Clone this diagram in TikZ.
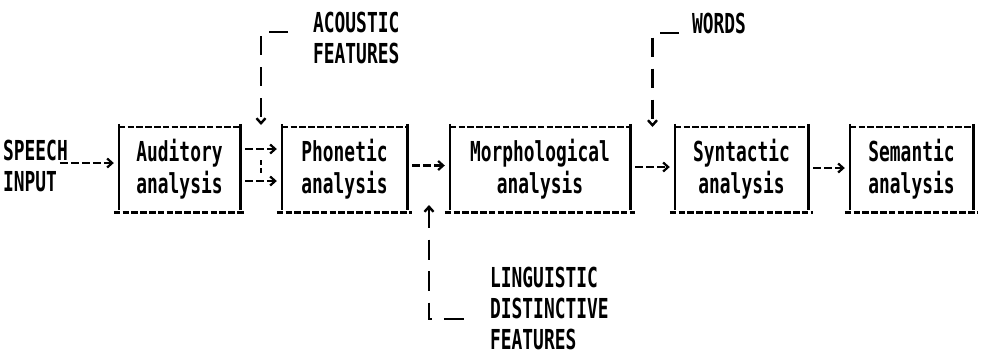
\documentclass[tikz,border=0pt]{standalone}
\usepackage{fontspec}
\newfontfamily\dotfont[FakeStretch=0.65]{DejaVu Sans Mono Bold}
\usetikzlibrary{arrows.meta}

\begin{document}
\begin{tikzpicture}[x=1pt, y=-1pt, >={Straight Barb[length=5pt,width=9pt]},
   stage/.style={rectangle, minimum height=85pt, inner sep=0pt, align=center,
      font=\dotfont\fontsize{27.5}{32}\selectfont},
   note/.style={anchor=west, align=left, inner sep=0pt,
      font=\dotfont\fontsize{27.5}{31}\selectfont},
   rim/.style={line width=2.6pt},
   edge/.style={dash pattern=on 6.5pt off 2.3pt},
   flow/.style={->, line width=2.2pt, dash pattern=on 8pt off 3pt,
      shorten <=5pt, shorten >=5pt},
   feed/.style={->, line width=2.4pt, dash pattern=on 19pt off 12pt}]
   \useasboundingbox (0,0) rectangle (983,357);

   \node (aud) at (179.5,169.5) [stage, minimum width=121pt] {Auditory\\analysis};
   \node (pho) at (344.5,169.5) [stage, minimum width=125pt] {Phonetic\\analysis};
   \node (mor) at (540,169.5) [stage, minimum width=180pt] {Morphological\\analysis};
   \node (syn) at (741.5,169.5) [stage, minimum width=133pt] {Syntactic\\analysis};
   \node (sem) at (911.5,169.5) [stage, minimum width=123pt] {Semantic\\analysis};

   \node (speech) at (3,166) [note] {SPEECH\\INPUT};
   \node (acoustic) at (313,38) [note] {ACOUSTIC\\FEATURES};
   \node (words) at (692,23) [note] {WORDS};
   \node (ling) at (490,308) [note] {LINGUISTIC\\DISTINCTIVE\\FEATURES};

   \coordinate (acoustic in) at (261,125);
   \coordinate (words in) at (652.5,127);
   \coordinate (ling in) at (429,205);

   % dashed frames with solid sides
   \foreach \s in {aud,pho,mor,syn,sem}{
      \draw[rim] ([yshift=3pt]\s.north west) -- ([yshift=2pt]\s.south west);
      \draw[rim] ([yshift=3pt]\s.north east) -- ([yshift=2pt]\s.south east);
      \draw[rim, edge] (\s.north west) -- (\s.north east);
      \draw[rim, edge] ([xshift=-5pt]\s.south west) -- ([xshift=5pt]\s.south east);
   }

   \draw[flow, shorten <=0pt] ([shift={(-8,-3)}]speech.east) -- ([yshift=6.5pt]aud.west);
   \draw[flow] ([yshift=20.5pt]aud.east) -- ([yshift=20.5pt]pho.west);
   \draw[flow] ([yshift=-11.5pt]aud.east) -- ([yshift=-11.5pt]pho.west);
   \draw[flow] ([yshift=4pt]pho.east) -- ([yshift=4pt]mor.west);
   \draw[flow] ([yshift=2.5pt]mor.east) -- ([yshift=2.5pt]syn.west);
   \draw[flow] ([yshift=1.5pt]syn.east) -- ([yshift=1.5pt]sem.west);

   \draw[feed] ([shift={(-25,-6)}]acoustic.west) -| (acoustic in);
   \draw[line width=2pt, dash pattern=on 5pt off 3pt] ([yshift=-35pt]acoustic in) -- ([yshift=-50pt]acoustic in);
   \draw[feed] ([shift={(-13,10)}]words.west) -| (words in);
   \draw[feed, <-, dash pattern=on 20pt off 11.5pt] (ling in) |- ([shift={(-25,11)}]ling.west);

\end{tikzpicture}
\end{document}
